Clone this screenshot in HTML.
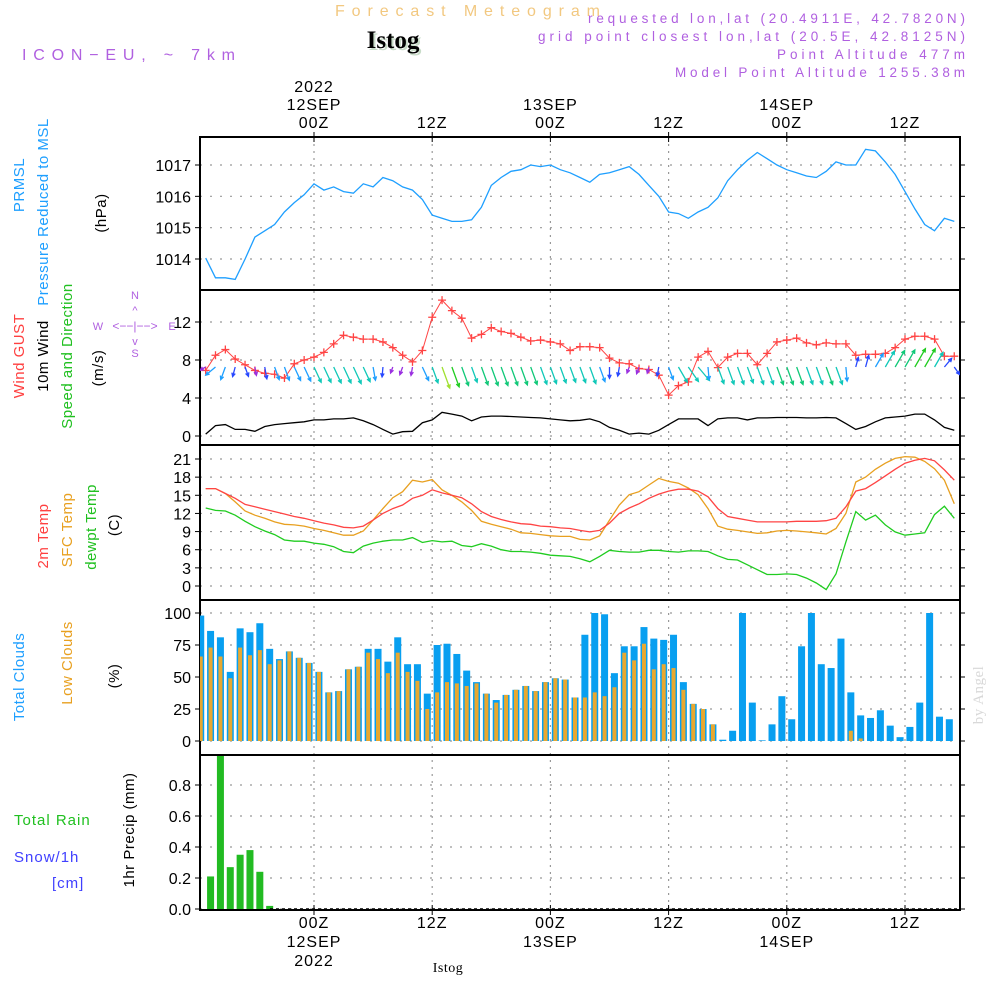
<!DOCTYPE html>
<html><head><meta charset="utf-8">
<style>
html,body{margin:0;padding:0;background:#fff;}
svg{display:block;font-family:"Liberation Sans",sans-serif;}
</style></head>
<body>
<svg id="chart" width="1000" height="1000" viewBox="0 0 1000 1000" xmlns="http://www.w3.org/2000/svg">
<text x="335" y="16" fill="#f2c880" font-size="16" textLength="265" lengthAdjust="spacing">Forecast Meteogram</text>
<text x="393" y="48" fill="#c8dcc8" font-size="25" font-weight="bold" font-family="Liberation Serif,serif" text-anchor="middle" dx="2" dy="2">Istog</text>
<text x="393" y="48" fill="#000" font-size="25" font-weight="bold" font-family="Liberation Serif,serif" text-anchor="middle">Istog</text>
<text x="22" y="60" fill="#b060e0" font-size="16" textLength="213" lengthAdjust="spacing">ICON−EU, ~ 7km</text>
<g fill="#b060e0" font-size="13.5">
<text x="588" y="23" textLength="377" lengthAdjust="spacing">requested lon,lat (20.4911E, 42.7820N)</text>
<text x="538" y="41" textLength="427" lengthAdjust="spacing">grid point closest lon,lat (20.5E, 42.8125N)</text>
<text x="777" y="59" textLength="188" lengthAdjust="spacing">Point Altitude 477m</text>
<text x="675" y="77" textLength="290" lengthAdjust="spacing">Model Point Altitude 1255.38m</text>
</g>
<g id="axes"></g>
<g id="labels" font-size="15" letter-spacing="0.5">
<text transform="translate(24,185) rotate(-90)" fill="#1e9fff" text-anchor="middle">PRMSL</text>
<text transform="translate(48,212) rotate(-90)" fill="#1e9fff" text-anchor="middle">Pressure Reduced to MSL</text>
<text transform="translate(106,213) rotate(-90)" fill="#000" text-anchor="middle">(hPa)</text>
<text transform="translate(24,356) rotate(-90)" fill="#ff4040" text-anchor="middle">Wind GUST</text>
<text transform="translate(48,356) rotate(-90)" fill="#000" text-anchor="middle">10m Wind</text>
<text transform="translate(72,356) rotate(-90)" fill="#20c020" text-anchor="middle">Speed and Direction</text>
<text transform="translate(103,368) rotate(-90)" fill="#000" text-anchor="middle">(m/s)</text>
<text transform="translate(48,536) rotate(-90)" fill="#ff4040" text-anchor="middle">2m Temp</text>
<text transform="translate(72,530) rotate(-90)" fill="#e8a020" text-anchor="middle">SFC Temp</text>
<text transform="translate(96,527) rotate(-90)" fill="#20c020" text-anchor="middle">dewpt Temp</text>
<text transform="translate(119,525) rotate(-90)" fill="#000" text-anchor="middle">(C)</text>
<text transform="translate(24,677) rotate(-90)" fill="#1e9fff" text-anchor="middle">Total Clouds</text>
<text transform="translate(72,663) rotate(-90)" fill="#e8a020" text-anchor="middle">Low Clouds</text>
<text transform="translate(119,676) rotate(-90)" fill="#000" text-anchor="middle">(%)</text>
<text transform="translate(134,830) rotate(-90)" fill="#000" text-anchor="middle">1hr Precip (mm)</text>
<text x="14" y="825" fill="#20c020" letter-spacing="1">Total  Rain</text>
<text x="14" y="862" fill="#4040ff" letter-spacing="1">Snow/1h</text>
<text x="52" y="888" fill="#4040ff" letter-spacing="1">[cm]</text>
<text transform="translate(983,695) rotate(-90)" fill="#d8d8d8" font-family="Liberation Serif,serif" font-size="15" text-anchor="middle">by Angel</text>
<text x="448" y="972" fill="#000" font-family="Liberation Serif,serif" font-size="14" text-anchor="middle">Istog</text>
</g>
<g fill="#b060e0" stroke="none" font-size="11">
<text x="135" y="299" text-anchor="middle">N</text>
<text x="135" y="357" text-anchor="middle">S</text>
<text x="98" y="330" text-anchor="middle">W</text>
<text x="172" y="330" text-anchor="middle">E</text>
<text x="135" y="330" text-anchor="middle" font-size="12">&lt;−−|−−&gt;</text>
<text x="135" y="314" text-anchor="middle" font-size="11">^</text>
<text x="135" y="345" text-anchor="middle" font-size="11">v</text>
</g>
<g id="plot"></g>
</svg>
<script>
const pres = [1014.03,1013.4,1013.4,1013.35,1014.0,1014.7,1014.9,1015.1,1015.5,1015.8,1016.05,1016.4,1016.2,1016.3,1016.15,1016.1,1016.4,1016.3,1016.6,1016.5,1016.3,1016.2,1015.9,1015.4,1015.3,1015.2,1015.2,1015.25,1015.65,1016.35,1016.6,1016.8,1016.85,1017.0,1016.95,1017.0,1016.85,1016.75,1016.6,1016.45,1016.7,1016.75,1016.85,1016.95,1016.7,1016.35,1016.0,1015.5,1015.45,1015.3,1015.5,1015.65,1015.95,1016.5,1016.85,1017.15,1017.4,1017.2,1017.0,1016.85,1016.75,1016.65,1016.6,1016.8,1017.1,1017.0,1017.0,1017.5,1017.45,1017.1,1016.7,1016.15,1015.6,1015.1,1014.9,1015.3,1015.2];
const gust = [6.9,8.5,9.1,8.1,7.5,6.9,6.6,6.5,6.1,7.6,8.0,8.3,8.8,9.7,10.6,10.4,10.2,10.2,9.9,9.3,8.5,7.8,9.0,12.5,14.3,13.2,12.4,10.3,10.7,11.4,11.0,10.8,10.4,10.0,10.1,9.9,9.7,9.0,9.4,9.4,9.3,8.2,7.7,7.6,7.1,7.0,6.4,4.3,5.3,5.7,8.3,8.9,7.2,8.3,8.7,8.7,7.5,8.7,9.9,10.1,10.3,9.8,9.6,9.8,9.7,9.7,8.5,8.6,8.6,8.7,9.3,10.2,10.5,10.5,10.2,8.4,8.4];
const wspd = [0.2,1.1,1.2,0.7,0.7,0.5,1.0,1.2,1.3,1.4,1.5,1.7,1.7,1.8,1.8,1.9,1.6,1.2,0.7,0.2,0.45,0.5,1.4,1.7,2.5,2.3,2.1,1.6,2.0,2.1,2.1,2.05,2.0,1.95,1.9,1.8,1.7,1.6,1.65,1.8,1.5,0.9,0.6,0.2,0.3,0.2,0.6,1.2,1.8,1.8,1.8,1.1,1.8,1.9,1.9,1.7,1.9,1.9,1.95,1.95,1.95,1.9,1.9,1.95,1.9,1.3,0.7,1.0,1.5,1.9,2.0,2.1,2.3,2.3,1.7,0.9,0.6];
const wdir = [240,230,200,195,160,170,170,160,160,155,155,155,155,155,155,155,155,170,185,200,200,190,155,160,160,160,160,160,160,160,160,160,160,160,160,160,160,160,160,160,160,180,190,200,200,195,190,160,150,145,140,175,160,160,160,160,160,160,160,160,160,160,160,160,160,175,15,15,30,30,30,30,30,30,30,40,145];
const t2m = [16.1,16.1,15.3,14.5,13.5,13.1,12.7,12.3,11.9,11.5,11.2,10.8,10.4,10.1,9.7,9.6,9.9,10.9,12.0,12.8,13.4,14.5,15.0,15.9,15.4,15.0,14.6,13.6,12.3,11.5,11.0,10.6,10.3,10.2,9.9,9.8,9.6,9.5,9.2,8.95,9.2,10.4,12.0,12.9,13.6,14.5,15.2,15.7,16.0,16.0,15.7,14.75,12.8,11.5,11.2,10.9,10.6,10.6,10.6,10.6,10.7,10.7,10.7,10.8,11.2,13.1,15.7,16.1,17.1,18.2,19.3,20.3,20.8,21.1,20.7,19.2,17.5];
const tsfc = [16.1,16.1,15.3,13.9,12.4,11.7,11.2,10.6,10.2,10.1,9.9,9.5,9.2,8.8,8.4,8.4,9.1,10.9,12.8,14.6,15.6,17.5,17.2,17.6,15.9,15.0,13.9,12.5,10.7,10.2,9.8,9.4,8.8,8.7,8.5,8.3,8.2,8.2,7.7,7.6,8.3,10.9,13.4,15.1,15.6,16.7,17.8,17.3,17.0,16.2,15.1,12.8,9.9,9.4,9.2,8.95,8.7,8.8,9.1,9.2,9.1,8.95,8.8,8.6,9.5,12.0,17.2,18.0,19.3,20.3,21.1,21.4,21.3,20.6,19.4,17.5,13.6];
const tdew = [12.9,12.5,12.4,11.7,10.7,9.8,9.1,8.5,7.6,7.4,7.4,7.1,6.9,6.5,5.7,5.5,6.6,7.1,7.4,7.6,7.6,8.0,7.2,7.5,7.3,7.4,6.7,6.5,7.0,6.6,6.0,5.7,5.7,5.6,5.4,5.1,5.0,4.9,4.5,4.0,4.9,5.9,5.7,5.6,5.6,5.9,5.9,5.7,5.6,5.8,5.8,5.7,5.0,4.4,4.3,3.5,2.7,1.9,1.9,2.0,1.9,1.3,0.5,-0.6,2.0,7.3,12.3,10.9,11.7,10.1,8.95,8.4,8.6,8.8,11.8,13.2,11.2];
const cloudTotal = [98,86,81,54,88,85,92,72,64,70,65,61,54,38,39,56,58,72,72,62,81,60,60,37,75,76,68,55,46,37,32,36,40,43,39,46,49,48,34,83,100,99,53,74,74,89,80,79,83,46,29,25,13,1,8,100,30,0.5,13,35,17,74,100,60,57,80,38,20,18,24,12,3,11,30,100,19,17];
const cloudLow = [66,73,66,49,73,67,71,60,63,70,65,61,54,38,39,56,58,69,64,53,69,54,47,25,38,46,45,43,45,37,30,36,40,43,39,46,49,48,34,34,38,35,42,69,63,76,56,60,57,40,29,25,13,0,0,0,0,0,0,0,0,0,0,0,0,0,8,2,0,0,0,0,0,0,0,0,0];
const precip = [0,0.21,1.0,0.27,0.35,0.38,0.24,0.02];

const pTicks = [1014,1015,1016,1017];
const wTicks = [0,4,8,12];
const tTicks = [0,3,6,9,12,15,18,21];
const cTicks = [0,25,50,75,100];
const rTicks = [0,0.2,0.4,0.6,0.8];
const timeTicks = [0,12,24,36,48,60];
const timeLabels = ["00Z","12Z","00Z","12Z","00Z","12Z"];
const dayLabels = ["12SEP","","13SEP","","14SEP",""];

const NS='http://www.w3.org/2000/svg';
const L=200,R=960;
const xH = h => 314 + h*9.85;
const xK = k => xH(k-11);
const xB = j => xH(j-11.5);
function lin(v0,y0,v1,y1){return v=> y0 + (v-v0)*(y1-y0)/(v1-v0);}
const yP = lin(1014,259,1017,165);
const yW = lin(0,436,12,322);
const yT = lin(0,586,21,459);
const yC = lin(0,741,100,613);
const yR = lin(0,909,0.8,785);
const panels=[[137,290],[290,445],[445,600],[600,755],[755,910]];
const plot=document.getElementById('plot');
const axes=document.getElementById('axes');
function mk(tag,attrs,parent){const e=document.createElementNS(NS,tag);for(const k in attrs)e.setAttribute(k,attrs[k]);(parent||plot).appendChild(e);return e;}

const defs=mk('defs',{},plot);
const cp=mk('clipPath',{id:'clip'},defs);
mk('rect',{x:L,y:137,width:R-L,height:773},cp);

timeTicks.forEach((h,i)=>{
  const x=xH(h);
  const g=mk('line',{x1:x,x2:x,y1:137,y2:910,stroke:'#999','stroke-dasharray':'2,5','stroke-width':1.2},axes);
  
  
  [137,910].forEach(yy=>{mk('line',{x1:x,x2:x,y1:yy-5,y2:yy+5,stroke:'#000'},axes);});
  const tt=mk('text',{x:x,y:128,'text-anchor':'middle','font-size':16,fill:'#000','letter-spacing':1},axes);
  tt.textContent=timeLabels[i];
  
  
  const tb=mk('text',{x:x,y:928,'text-anchor':'middle','font-size':16,fill:'#000','letter-spacing':1},axes);
  tb.textContent=timeLabels[i];
  
  
  if(dayLabels[i]){
    const d1=mk('text',{x:x,y:110,'text-anchor':'middle','font-size':16,fill:'#000','letter-spacing':1},axes);
    d1.textContent=dayLabels[i];
    
    
    const d2=mk('text',{x:x,y:947,'text-anchor':'middle','font-size':16,fill:'#000','letter-spacing':1},axes);
    d2.textContent=dayLabels[i];
    
    
  }
});
[[92,"2022"],[966,"2022"]].forEach(([yy,s])=>{
  const t=mk('text',{x:xH(0),y:yy,'text-anchor':'middle','font-size':16,fill:'#000','letter-spacing':1},axes);
  t.textContent=s;
  
  
});

function yAxis(ticks,fy,name,fmt){
  ticks.forEach(v=>{
    const y=fy(v);
    const gl=mk('line',{x1:L,x2:R,y1:y,y2:y,stroke:'#999','stroke-dasharray':'2,8','stroke-width':1.2},axes);
    
    
    mk('line',{x1:L-5,x2:L,y1:y,y2:y,stroke:'#000'},axes);
    mk('line',{x1:R,x2:R+5,y1:y,y2:y,stroke:'#000'},axes);
    const t=mk('text',{x:191,y:y+6,'text-anchor':'end','font-size':16,fill:'#000'},axes);
    t.textContent=fmt?fmt(v):v;
    
    
  });
}
yAxis(pTicks,yP,'pressure');
yAxis(wTicks,yW,'wind');
yAxis(tTicks,yT,'temp');
yAxis(cTicks,yC,'cloud');
yAxis(rTicks,yR,'precip',v=>v.toFixed(1));

panels.forEach(([a,b],i)=>{
  const r=mk('rect',{x:L,y:a,width:R-L,height:b-a,fill:'none',stroke:'#000','stroke-width':2},axes);
  
  
});

const gc=mk('g',{'clip-path':'url(#clip)'});
function path(arr,fy,color,name,w){
  const d=arr.map((v,k)=>(k?'L':'M')+xK(k).toFixed(1)+','+fy(v).toFixed(1)).join('');
  const p=mk('path',{d:d,fill:'none',stroke:color,'stroke-width':w||1.3},gc);
  
  
}
cloudTotal.forEach((v,j)=>{
  const b=mk('rect',{x:xB(j)-3.5,y:yC(v),width:7,height:yC(0)-yC(v),fill:'#089ff0'},gc);
  
  
});
cloudLow.forEach((v,j)=>{
  if(v<=0)return;
  const b=mk('rect',{x:xB(j)-2,y:yC(v),width:4,height:yC(0)-yC(v),fill:'#e8a830'},gc);
  
  
});
precip.forEach((v,j)=>{
  if(v<=0)return;
  const top=Math.max(yR(v),756);
  const b=mk('rect',{x:xB(j)-3.5,y:top,width:7,height:yR(0)-top,fill:'#22bb22'},gc);
  
  
});
const pl=mk('line',{x1:270,x2:R,y1:yR(0),y2:yR(0),stroke:'#000','stroke-dasharray':'3,3','stroke-width':1.5},gc);



path(pres,yP,'#1e9fff','pressure-line');
path(wspd,yW,'#000','wind-speed-line');
path(gust,yW,'#ff4444','wind-gust-line',1);
gust.forEach((v,k)=>{
  const x=xK(k),y=yW(v);
  const m=mk('path',{d:`M${x-4},${y}H${x+4}M${x},${y-4}V${y+4}`,stroke:'#ff4444','stroke-width':1.3},gc);
  
  
});
function wcol(s){
  if(s<=0.55)return '#9a30e0';
  if(s<=1.0)return '#2848ff';
  if(s<=1.5)return '#1e9fff';
  if(s<=1.9)return '#10c8b8';
  if(s<=2.2)return '#10c878';
  if(s<=2.4)return '#20cc20';
  return '#a0e030';
}
wdir.forEach((d,k)=>{
  const s=wspd[k];
  const len=5+7*s;
  const a=d*Math.PI/180;
  const x0=xK(k),y0=367;
  const x1=x0+Math.sin(a)*len,y1=y0-Math.cos(a)*len;
  const h=4;
  const ha1=a+Math.PI-0.45,ha2=a+Math.PI+0.45;
  const dd=`M${x0},${y0}L${x1},${y1}M${x1+Math.sin(ha1)*h},${y1-Math.cos(ha1)*h}L${x1},${y1}L${x1+Math.sin(ha2)*h},${y1-Math.cos(ha2)*h}`;
  const ar=mk('path',{d:dd,fill:'none',stroke:wcol(s),'stroke-width':1.3},gc);
  
  
});
path(tsfc,yT,'#e8a020','sfc-temp-line');
path(t2m,yT,'#ff4444','2m-temp-line');
path(tdew,yT,'#20cc20','dewpt-line');
</script>
</body></html>
